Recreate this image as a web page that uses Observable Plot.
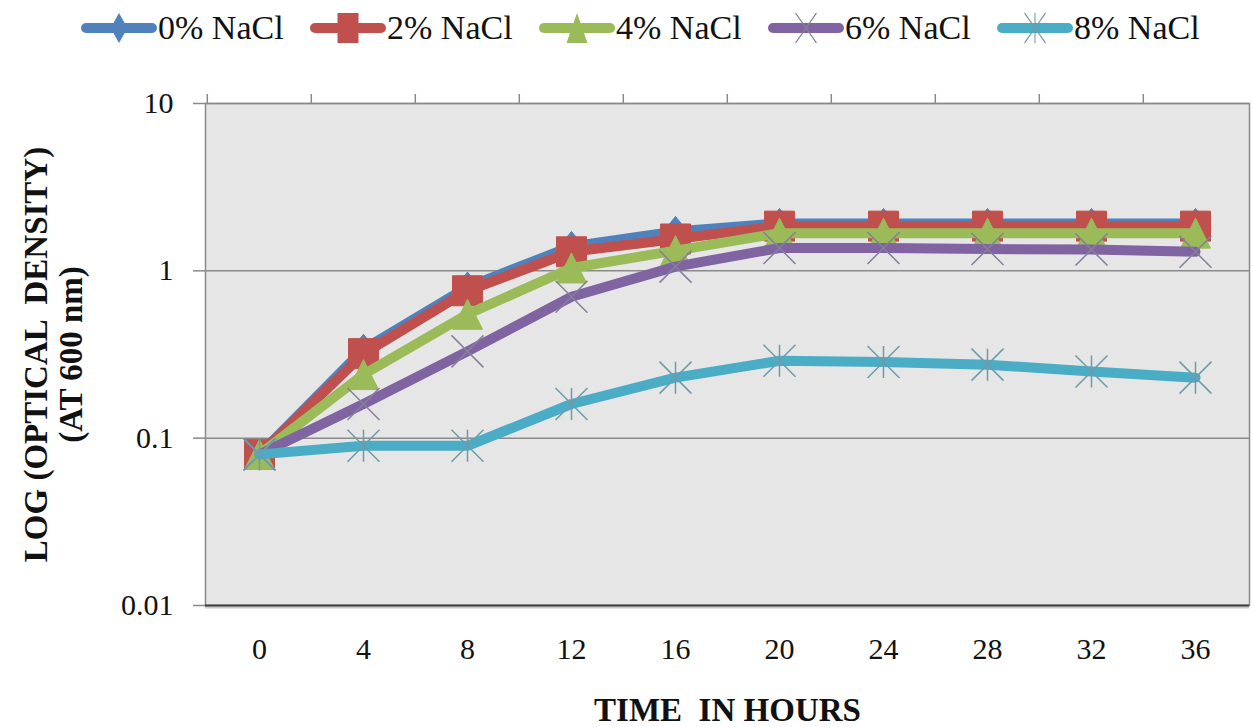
<!DOCTYPE html>
<html><head><meta charset="utf-8">
<script src="https://cdn.jsdelivr.net/npm/d3@7"></script>
<script src="https://cdn.jsdelivr.net/npm/@observablehq/plot@0.6"></script>
<style>
body{margin:0;background:#fff;font-family:"Liberation Serif","Times New Roman",serif;}
#legend{height:55px;display:flex;align-items:center;padding-left:80px;box-sizing:border-box;}
.item{display:flex;align-items:center;width:229px;flex:none;}
.item span{font-size:34px;color:#111;line-height:1;white-space:pre;}
</style></head><body>
<div id="legend"></div><div id="chart"></div>
<script>
const hours = [0, 4, 8, 12, 16, 20, 24, 28, 32, 36];
const seriesNames = ["0% NaCl", "2% NaCl", "4% NaCl", "6% NaCl", "8% NaCl"];
const nacl0 = [0.08, 0.34, 0.80, 1.40, 1.72, 1.92, 1.92, 1.92, 1.92, 1.92];
const nacl2 = [0.08, 0.32, 0.76, 1.30, 1.55, 1.85, 1.85, 1.85, 1.85, 1.85];
const nacl4 = [0.08, 0.24, 0.55, 1.04, 1.32, 1.68, 1.68, 1.68, 1.68, 1.68];
const nacl6 = [0.08, 0.16, 0.33, 0.70, 1.06, 1.37, 1.37, 1.35, 1.34, 1.30];
const nacl8 = [0.08, 0.09, 0.09, 0.16, 0.23, 0.29, 0.285, 0.275, 0.25, 0.23];
const seriesColors = ["#4F81BD", "#C0504D", "#9BBB59", "#8064A2", "#4BACC6"];
const markerStrokes = ["#4F81BD", "#C0504D", "#9BBB59", "#85809a", "#6b9cab"];
const yTicks = [0.01, 0.1, 1, 10];
const yTickLabels = ["0.01", "0.1", "1", "10"];
const xTitle = "TIME  IN HOURS";
const yTitle = "LOG (OPTICAL  DENSITY)\n(AT 600 nm)";

const allValues = [nacl0, nacl2, nacl4, nacl6, nacl8];

// custom marker shapes (half-extent = sqrt(size/PI))
const half = s => Math.sqrt(s / Math.PI);
const symDiamond = {draw(c, s) {const h = half(s); c.moveTo(0, -h); c.lineTo(h * 0.8, 0); c.lineTo(0, h); c.lineTo(-h * 0.8, 0); c.closePath();}};
const symSquare = {draw(c, s) {const h = half(s); c.moveTo(-h, -h); c.lineTo(h, -h); c.lineTo(h, h); c.lineTo(-h, h); c.closePath();}};
const symTriangle = {draw(c, s) {const h = half(s); c.moveTo(0, -h); c.lineTo(h, h); c.lineTo(-h, h); c.closePath();}};
const symTimes = {draw(c, s) {const h = half(s); c.moveTo(-h, -h); c.lineTo(h, h); c.moveTo(-h, h); c.lineTo(h, -h);}};
const symStar = {draw(c, s) {const h = half(s); c.moveTo(-h, -h); c.lineTo(h, h); c.moveTo(-h, h); c.lineTo(h, -h); c.moveTo(0, -h); c.lineTo(0, h);}};
const symbols = [symDiamond, symSquare, symTriangle, symTimes, symStar];
const filled = [true, true, true, false, false];
const markerR = [15, 15, 15, 16, 16];

const data = [];
seriesNames.forEach((name, si) => hours.forEach((h, i) => data.push({series: name, si, hour: h, value: allValues[si][i]})));

// Legend
const legend = d3.select("#legend");
seriesNames.forEach((name, si) => {
  const item = legend.append("div").attr("class", "item");
  const svg = item.append("svg").attr("width", 78).attr("height", 36);
  svg.append("line").attr("x1", 6).attr("x2", 72).attr("y1", 18).attr("y2", 18)
    .attr("stroke", seriesColors[si]).attr("stroke-width", 10).attr("stroke-linecap", "round");
  const p = svg.append("path").attr("transform", "translate(39,18) scale(0.7,1.0)")
    .attr("d", d3.symbol(symbols[si], Math.PI * 15 * 15)());
  if (filled[si]) p.attr("fill", seriesColors[si]);
  else p.attr("fill", "none").attr("stroke", markerStrokes[si]).attr("stroke-width", 1.5);
  item.append("span").text(name);
});

const W = 1253, ML = 205, MR = 4;
const step = (W - ML - MR) / hours.length;

const marks = [
  Plot.frame({fill: "#e6e6e6", stroke: "#8a8a8a", strokeWidth: 1.5}),
  Plot.ruleY([10, 1, 0.1], {stroke: "#8a8a8a", strokeWidth: 1.5}),
  Plot.ruleY([0.01], {stroke: "#c8c8c8", strokeWidth: 2, dy: 2}),
  Plot.ruleY([0.01], {stroke: "#3a3a3a", strokeWidth: 2}),
  Plot.axisY({ticks: yTicks, tickFormat: d => yTickLabels[yTicks.indexOf(d)], tickSize: 12, tickPadding: 20,
    fontSize: 30, stroke: "#8a8a8a", fill: "#111", strokeWidth: 1.5, label: null}),
  Plot.axisX({anchor: "bottom", tickSize: 0, tickPadding: 32, fontSize: 30, fill: "#111", label: null}),
  Plot.axisX({anchor: "top", tickSize: 10, tickFormat: () => "", dx: -step / 2, stroke: "#8a8a8a", strokeWidth: 1.5, label: null})
];
seriesNames.forEach((name, si) => {
  const d = data.filter(r => r.si === si);
  marks.push(Plot.line(d, {x: "hour", y: "value", stroke: seriesColors[si], strokeWidth: 10,
    strokeLinejoin: "round", strokeLinecap: "round"}));
  marks.push(Plot.dot(d, filled[si]
    ? {x: "hour", y: "value", r: markerR[si], symbol: symbols[si], fill: seriesColors[si], stroke: seriesColors[si], strokeWidth: 1}
    : {x: "hour", y: "value", r: markerR[si], symbol: symbols[si], fill: "none", stroke: markerStrokes[si], strokeWidth: 1.5}));
});
marks.push(Plot.text([xTitle], {frameAnchor: "bottom", dy: 105, fontSize: 33, fontWeight: "bold", lineAnchor: "middle", textAnchor: "middle", fill: "#111"}));
marks.push(Plot.text([yTitle], {frameAnchor: "left", dx: -152, rotate: -90, fontSize: 33, fontWeight: "bold", lineHeight: 1.05, lineAnchor: "middle", textAnchor: "middle", fill: "#111"}));

const chart = Plot.plot({
  width: W,
  height: 672,
  marginLeft: ML,
  marginRight: MR,
  marginTop: 48,
  marginBottom: 122,
  style: {fontFamily: "'Liberation Serif', 'Times New Roman', serif", background: "transparent", color: "#111", overflow: "visible"},
  x: {type: "point", domain: hours, padding: 0.5, label: null},
  y: {type: "log", domain: [0.01, 10], label: null},
  marks
});
document.getElementById("chart").appendChild(chart);
</script>
</body></html>
